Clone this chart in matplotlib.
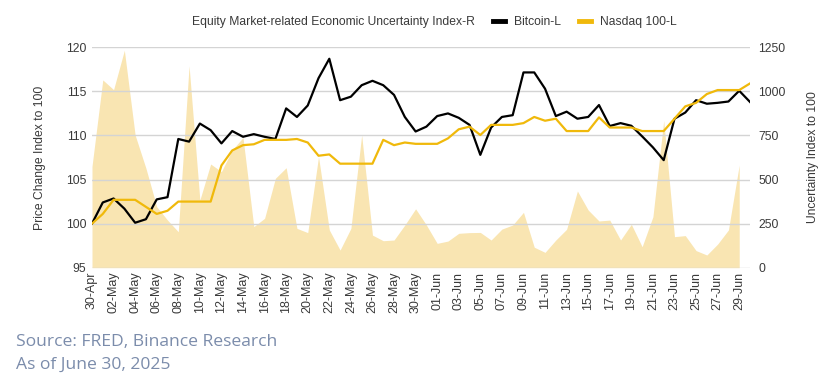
import matplotlib
matplotlib.use("Agg")
import matplotlib.pyplot as plt
from matplotlib.lines import Line2D
from matplotlib.patches import Patch
import numpy as np
import pandas as pd

plt.rcParams['font.family'] = ['Liberation Sans', 'DejaVu Sans']

dates = pd.date_range("2025-04-30", "2025-06-30", freq="D")
tick_labels = [d.strftime("%d-%b") for d in dates]

bitcoin = [100.0, 102.4, 102.85, 101.7, 100.1, 100.5, 102.75, 103.0, 109.6, 109.3,
           111.35, 110.6, 109.1, 110.5, 109.85, 110.15, 109.85, 109.6, 113.07, 112.1,
           113.4, 116.5, 118.7, 114.0, 114.4, 115.7, 116.2, 115.7, 114.6, 112.1,
           110.45, 111.0, 112.2, 112.5, 112.0, 111.2, 107.8, 110.9, 112.1, 112.3,
           117.15, 117.15, 115.3, 112.2, 112.7, 111.9, 112.1, 113.45, 111.07, 111.4,
           111.1, 109.9, 108.65, 107.2, 111.9, 112.6, 114.0, 113.6, 113.7, 113.85,
           115.07, 113.8]

nasdaq = [100.0, 101.1, 102.7, 102.7, 102.7, 101.9, 101.1, 101.46, 102.5, 102.5,
          102.5, 102.5, 106.6, 108.3, 108.9, 109.0, 109.5, 109.5, 109.5, 109.6,
          109.2, 107.7, 107.85, 106.8, 106.8, 106.8, 106.8, 109.5, 108.9, 109.2,
          109.05, 109.05, 109.05, 109.67, 110.7, 111.0, 110.05, 111.2, 111.2, 111.2,
          111.4, 112.1, 111.67, 111.9, 110.5, 110.5, 110.5, 112.05, 110.9, 110.9,
          110.9, 110.5, 110.5, 110.5, 111.9, 113.3, 113.7, 114.7, 115.15, 115.15,
          115.15, 115.9]

uncertainty = [575, 1065, 1010, 1233, 752, 564, 346, 270, 204, 1145,
               384, 588, 545, 668, 738, 233, 280, 507, 567, 223,
               199, 630, 214, 100, 223, 752, 185, 153, 157, 242,
               334, 242, 138, 151, 195, 199, 200, 157, 219, 242,
               314, 116, 87, 157, 218, 435, 327, 265, 270, 157,
               246, 119, 289, 835, 176, 182, 97, 72, 134, 214,
               582]

W, H = 837, 392
fig = plt.figure(figsize=(W / 100, H / 100), dpi=100)
left, right, top, bottom = 92, 750, 47.3, 267.7
ax = fig.add_axes([left / W, 1 - bottom / H, (right - left) / W, (bottom - top) / H])
ax2 = ax.twinx()
ax.set_zorder(ax2.get_zorder() + 1)
ax.patch.set_visible(False)

x = np.arange(len(dates))
xu = np.arange(len(uncertainty))

area_color = '#f9e5b2'
btc_color = '#000000'
ndq_color = '#f0b90b'
grid_color = '#d4d4d4'
text_color = '#3a3a3a'

ax2.fill_between(xu, 0, uncertainty, color=area_color, linewidth=0)
ax.plot(x, bitcoin, color=btc_color, lw=1.6, zorder=3)
ax.plot(x, nasdaq, color=ndq_color, lw=1.6, zorder=4)

ax.set_xlim(0, len(dates) - 1)
ax.set_ylim(95, 120)
ax2.set_ylim(0, 1250)
ax.set_yticks([95, 100, 105, 110, 115, 120])
ax2.set_yticks([0, 250, 500, 750, 1000, 1250])
ax.yaxis.grid(True, color=grid_color, lw=1.0)
ax.set_axisbelow(True)

ax.set_xticks(x[::2])
ax.set_xticklabels(tick_labels[::2], rotation=90, fontsize=9, color=text_color)
ax.tick_params(axis='x', length=0, pad=3)
ax.tick_params(axis='y', length=0, pad=4, labelsize=8.7, labelcolor=text_color)
ax2.tick_params(axis='y', length=0, pad=6, labelsize=8.7, labelcolor=text_color)

for a in (ax, ax2):
    for s in a.spines.values():
        s.set_visible(False)

ax.set_ylabel("Price Change Index to 100", fontsize=8.7, color=text_color, labelpad=14)
ax2.set_ylabel("Uncertainty Index to 100", fontsize=8.7, color=text_color, labelpad=15)

handles = [Patch(facecolor='none', edgecolor='none'),
           Line2D([], [], color=btc_color, lw=3.5),
           Line2D([], [], color=ndq_color, lw=3.5)]
labels = ["Equity Market-related Economic Uncertainty Index-R", "Bitcoin-L", "Nasdaq 100-L"]
fig.legend(handles, labels, loc='center', bbox_to_anchor=(424 / W, 1 - 22 / H), ncol=3,
           frameon=False, fontsize=8.7, handlelength=1.0, handletextpad=0.7,
           columnspacing=1.5, labelcolor=text_color)

src_color = '#7b8cab'
fig.text(16 / W, 1 - 342 / H, "Source: FRED, Binance Research", fontsize=12.6,
         color=src_color, va='center', ha='left', family=['Open Sans', 'DejaVu Sans'])
fig.text(16 / W, 1 - 364.5 / H, "As of June 30, 2025", fontsize=12.6,
         color=src_color, va='center', ha='left', family=['Open Sans', 'DejaVu Sans'])

fig.savefig("out.png", dpi=100)
